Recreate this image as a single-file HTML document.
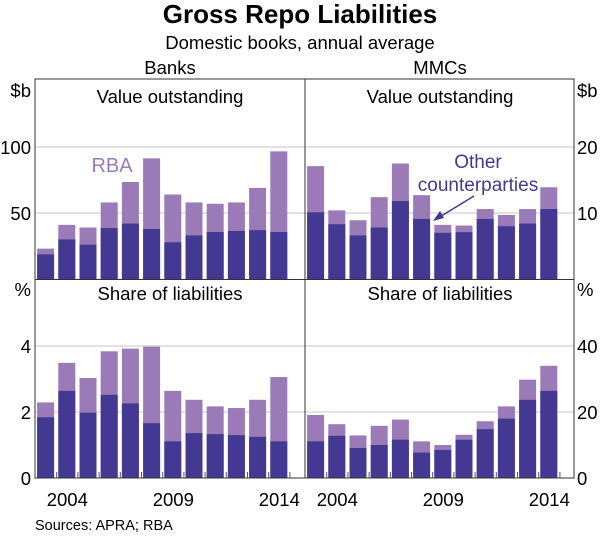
<!DOCTYPE html>
<html><head><meta charset="utf-8"><style>
body{margin:0;background:#fff;}
svg{display:block;font-family:"Liberation Sans",Arial,sans-serif;}
</style></head><body>
<svg id="chart" width="600" height="536">
<text x="300" y="23" text-anchor="middle" font-size="26" font-weight="bold" fill="#000">Gross Repo Liabilities</text>
<text x="300" y="49" text-anchor="middle" font-size="18.5" fill="#000">Domestic books, annual average</text>
<text x="170" y="74" text-anchor="middle" font-size="18.5" fill="#000">Banks</text>
<text x="440" y="74" text-anchor="middle" font-size="18.5" fill="#000">MMCs</text>
<g id="grid"></g><g id="bars"></g><g id="frame"></g>
<text x="112" y="172" text-anchor="middle" font-size="20" fill="#9a7bb8">RBA</text>
<text x="478" y="168" text-anchor="middle" font-size="19" fill="#433993">Other</text>
<text x="478" y="191" text-anchor="middle" font-size="19" fill="#433993">counterparties</text>
<line x1="474" y1="196" x2="438" y2="218" stroke="#433993" stroke-width="1.5"/>
<polygon points="433,221 440,211 444,218" fill="#433993"/>
<text x="35" y="530" font-size="14.5" fill="#000">Sources:   APRA; RBA</text>
</svg>
<script>
const years = [2003,2004,2005,2006,2007,2008,2009,2010,2011,2012,2013,2014];
const banksValueTotal = [23,41,39,58,73.5,91.4,64,58,57,58,69,96.7];
const banksValueOther = [18.7,30,26,38.6,42,37.9,27.8,33,35.6,36.4,37,35.6];
const mmcsValueTotal = [17.1,10.4,8.9,12.4,17.5,12.7,8.2,8.1,10.6,9.7,10.6,13.9];
const mmcsValueOther = [10.1,8.3,6.6,7.8,11.8,9.1,7,7.1,9.1,8,8.4,10.6];
const banksShareTotal = [2.29,3.49,3.03,3.84,3.92,3.98,2.64,2.37,2.17,2.12,2.37,3.06];
const banksShareOther = [1.84,2.64,1.98,2.52,2.26,1.66,1.11,1.36,1.33,1.30,1.25,1.11];
const mmcsShareTotal = [19.1,16.3,12.9,15.8,17.7,11.1,10,13.1,17.2,21.7,29.8,34];
const mmcsShareOther = [11.1,12.8,9.1,10,11.6,7.7,8.5,11.6,14.8,18,23.7,26.4];
const leftTicksTop = [50,100];
const rightTicksTop = [10,20];
const leftTicksBottom = [0,2,4];
const rightTicksBottom = [0,20,40];
const yearLabels = [2004,2009,2014];

const NS="http://www.w3.org/2000/svg";
const svg=document.getElementById('chart');
const gGrid=document.getElementById('grid'),gBars=document.getElementById('bars'),gFrame=document.getElementById('frame');
function mk(tag,attrs,parent){const e=document.createElementNS(NS,tag);for(const k in attrs)e.setAttribute(k,attrs[k]);parent.appendChild(e);return e;}
const slotW=21.2;
const panelX={left:35.5,right:305.5};
const rows={top:{y0:279,y1:81},bottom:{y0:478,y1:280}};
const FS=18.5;
function xSlot(side,yr){return panelX[side]+(yr-2003)*slotW;}
function yScale(row,max,v){const r=rows[row];return r.y0-(v/max)*(r.y0-r.y1);}

[[ 'top',150,leftTicksTop],['bottom',6,leftTicksBottom]].forEach(([row,max,ticks])=>{
  ticks.forEach(t=>{ if(t===0) return; const y=yScale(row,max,t);
    const l=mk('line',{x1:35,x2:574,y1:y,y2:y,stroke:'#c4c4c4','stroke-width':1},gGrid);
    
    
  });
});

function drawBars(side,row,max,tot,oth,key){
  years.forEach((yr,i)=>{
    const x=xSlot(side,yr)+1.6, w=17;
    const yt=yScale(row,max,tot[i]), yo=yScale(row,max,oth[i]), y0=rows[row].y0;
    const r1=mk('rect',{x:x,y:yt,width:w,height:y0-yt,fill:'#9a7bb8'},gBars);
    
    
    const r2=mk('rect',{x:x,y:yo,width:w,height:y0-yo,fill:'#433993'},gBars);
    
    
  });
}
drawBars('left','top',150,banksValueTotal,banksValueOther,'banks-value');
drawBars('right','top',30,mmcsValueTotal,mmcsValueOther,'mmcs-value');
drawBars('left','bottom',6,banksShareTotal,banksShareOther,'banks-share');
drawBars('right','bottom',60,mmcsShareTotal,mmcsShareOther,'mmcs-share');

const fr=mk('rect',{x:35,y:79,width:539,height:399,fill:'none',stroke:'#333','stroke-width':1},gFrame);


const vl=mk('line',{x1:305,x2:305,y1:79,y2:478,stroke:'#333'},gFrame);


const hl=mk('line',{x1:35,x2:574,y1:279.5,y2:279.5,stroke:'#333'},gFrame);



['left','right'].forEach(side=>{
  years.forEach(yr=>{ if(yr===2003) return; const x=xSlot(side,yr);
    const t=mk('line',{x1:x,x2:x,y1:472,y2:478,stroke:'#555','stroke-width':1},gFrame);
    
    
  });
  const xe=xSlot(side,2015);
  const te=mk('line',{x1:xe,x2:xe,y1:472,y2:478,stroke:'#555'},gFrame);
  
  
  yearLabels.forEach(yr=>{
    const tx=mk('text',{x:xSlot(side,yr)+slotW/2,y:506,'text-anchor':'middle','font-size':FS,fill:'#000'},svg);
    tx.textContent=yr;
    
    
  });
});

function yLabels(row,max,ticks,side,unit,unitY){
  ticks.forEach(t=>{
    const y=yScale(row,max,t)+7;
    const tx=mk('text',side==='left'?{x:31,y:y,'text-anchor':'end','font-size':FS}:{x:577,y:y,'font-size':FS},svg);
    tx.textContent=t;
    
    
  });
  const u=mk('text',side==='left'?{x:31,y:unitY,'text-anchor':'end','font-size':FS}:{x:577,y:unitY,'font-size':FS},svg);
  u.textContent=unit;
  
  
}
yLabels('top',150,leftTicksTop,'left','$b',97);
yLabels('top',30,rightTicksTop,'right','$b',97);
yLabels('bottom',6,leftTicksBottom,'left','%',296);
yLabels('bottom',60,rightTicksBottom,'right','%',296);

[['left',170,'top','Value outstanding',103],['right',440,'top','Value outstanding',103],['left',170,'bottom','Share of liabilities',300],['right',440,'bottom','Share of liabilities',300]].forEach(([s,x,r,t,y])=>{
  const tx=mk('text',{x:x,y:y,'text-anchor':'middle','font-size':FS,fill:'#000'},svg);
  tx.textContent=t;
  
  
});
</script>
</body></html>
